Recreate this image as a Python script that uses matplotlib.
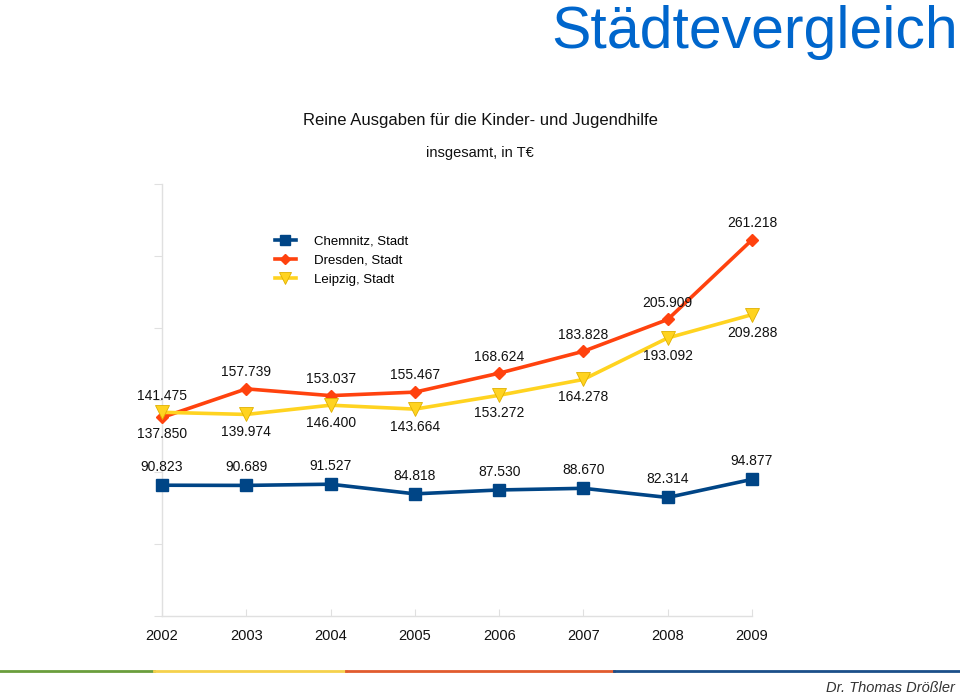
import matplotlib
matplotlib.use("Agg")
import matplotlib.pyplot as plt
from matplotlib.lines import Line2D

plt.rcParams['font.family'] = ['Liberation Sans', 'DejaVu Sans']

years = ['2002', '2003', '2004', '2005', '2006', '2007', '2008', '2009']
chemnitz = [90.823, 90.689, 91.527, 84.818, 87.530, 88.670, 82.314, 94.877]
dresden = [137.850, 157.739, 153.037, 155.467, 168.624, 183.828, 205.909, 261.218]
leipzig = [141.475, 139.974, 146.400, 143.664, 153.272, 164.278, 193.092, 209.288]
series_names = ['Chemnitz, Stadt', 'Dresden, Stadt', 'Leipzig, Stadt']

c_blue = '#004586'
c_red = '#ff420e'
c_yel = '#ffd320'

fig = plt.figure(figsize=(9.6, 6.95), dpi=100)
ax = fig.add_axes([162/960, (695-616)/695, (752-162)/960, (616-184)/695])

x = list(range(len(years)))
ax.plot(x, chemnitz, color=c_blue, lw=2.6, marker='s', ms=8, mfc=c_blue, mec=c_blue, zorder=3, clip_on=False)
ax.plot(x, dresden, color=c_red, lw=2.6, marker='D', ms=6.5, mfc=c_red, mec=c_red, zorder=3, clip_on=False)
ax.plot(x, leipzig, color=c_yel, lw=2.6, marker='v', ms=10, mfc=c_yel, mec='#e0b000', mew=0.6, zorder=3,
        clip_on=False)

fs = 10
for i, v in enumerate(chemnitz):
    ax.annotate(f"{v:.3f}", (i, v), xytext=(0, 13), textcoords='offset points',
                ha='center', va='center', fontsize=fs, color='#111111')
for i, v in enumerate(dresden):
    off = -12 if i == 0 else 12
    ax.annotate(f"{v:.3f}", (i, v), xytext=(0, off), textcoords='offset points',
                ha='center', va='center', fontsize=fs, color='#111111')
for i, v in enumerate(leipzig):
    off = 12 if i == 0 else -13
    ax.annotate(f"{v:.3f}", (i, v), xytext=(0, off), textcoords='offset points',
                ha='center', va='center', fontsize=fs, color='#111111')

ax.set_xlim(0, 7)
ax.set_ylim(0, 300)
ax.set_yticks([0, 50, 100, 150, 200, 250, 300])
ax.set_yticklabels([])
ax.set_xticks(x)
ax.set_xticklabels(years, fontsize=10.5, color='#111111')
for s in ['top', 'right']:
    ax.spines[s].set_visible(False)
for s in ['left', 'bottom']:
    ax.spines[s].set_color('#e0e0e0')
    ax.spines[s].set_linewidth(1)
ax.tick_params(axis='y', direction='out', length=6, color='#e0e0e0')
ax.tick_params(axis='x', direction='in', length=5, color='#e0e0e0', pad=9)
ax.spines['bottom'].set_bounds(0, 7)

handles = [
    Line2D([], [], color=c_blue, lw=2.6, marker='s', ms=7),
    Line2D([], [], color=c_red, lw=2.6, marker='D', ms=5),
    Line2D([], [], color=c_yel, lw=2.6, marker='v', ms=8, mec='#e0b000', mew=0.6),
]
fig.legend(handles, series_names, loc='upper left', bbox_to_anchor=(268/960, 1-229/695),
           frameon=False, fontsize=9.5, handlelength=1.6, labelspacing=0.5, handletextpad=1.4,
           borderpad=0)

fig.text(958/960, 1-5/695, 'Städtevergleich', ha='right', va='top', fontsize=42.5, color='#0066cc')
fig.text(480/960, 1-120/695, 'Reine Ausgaben für die Kinder- und Jugendhilfe', ha='center', va='center',
         fontsize=12, color='#111111')
fig.text(480/960, 1-153/695, 'insgesamt, in T€', ha='center', va='center', fontsize=10.5, color='#111111')

segs = [(0, 84, '#6a9e3c'), (84, 188, '#f5d14c'), (188, 334, '#e15b2e'), (334, 522, '#1b4f8a')]
scale = 960/522
for a, b, c in segs:
    fig.add_artist(Line2D([a*scale/960, b*scale/960], [1-671/695, 1-671/695], color=c, lw=2,
                          transform=fig.transFigure))
fig.text(955/960, 1-688/695, 'Dr. Thomas Drößler', ha='right', va='center', fontsize=10.5,
         style='italic', color='#333333')

fig.savefig('out.png', dpi=100)
